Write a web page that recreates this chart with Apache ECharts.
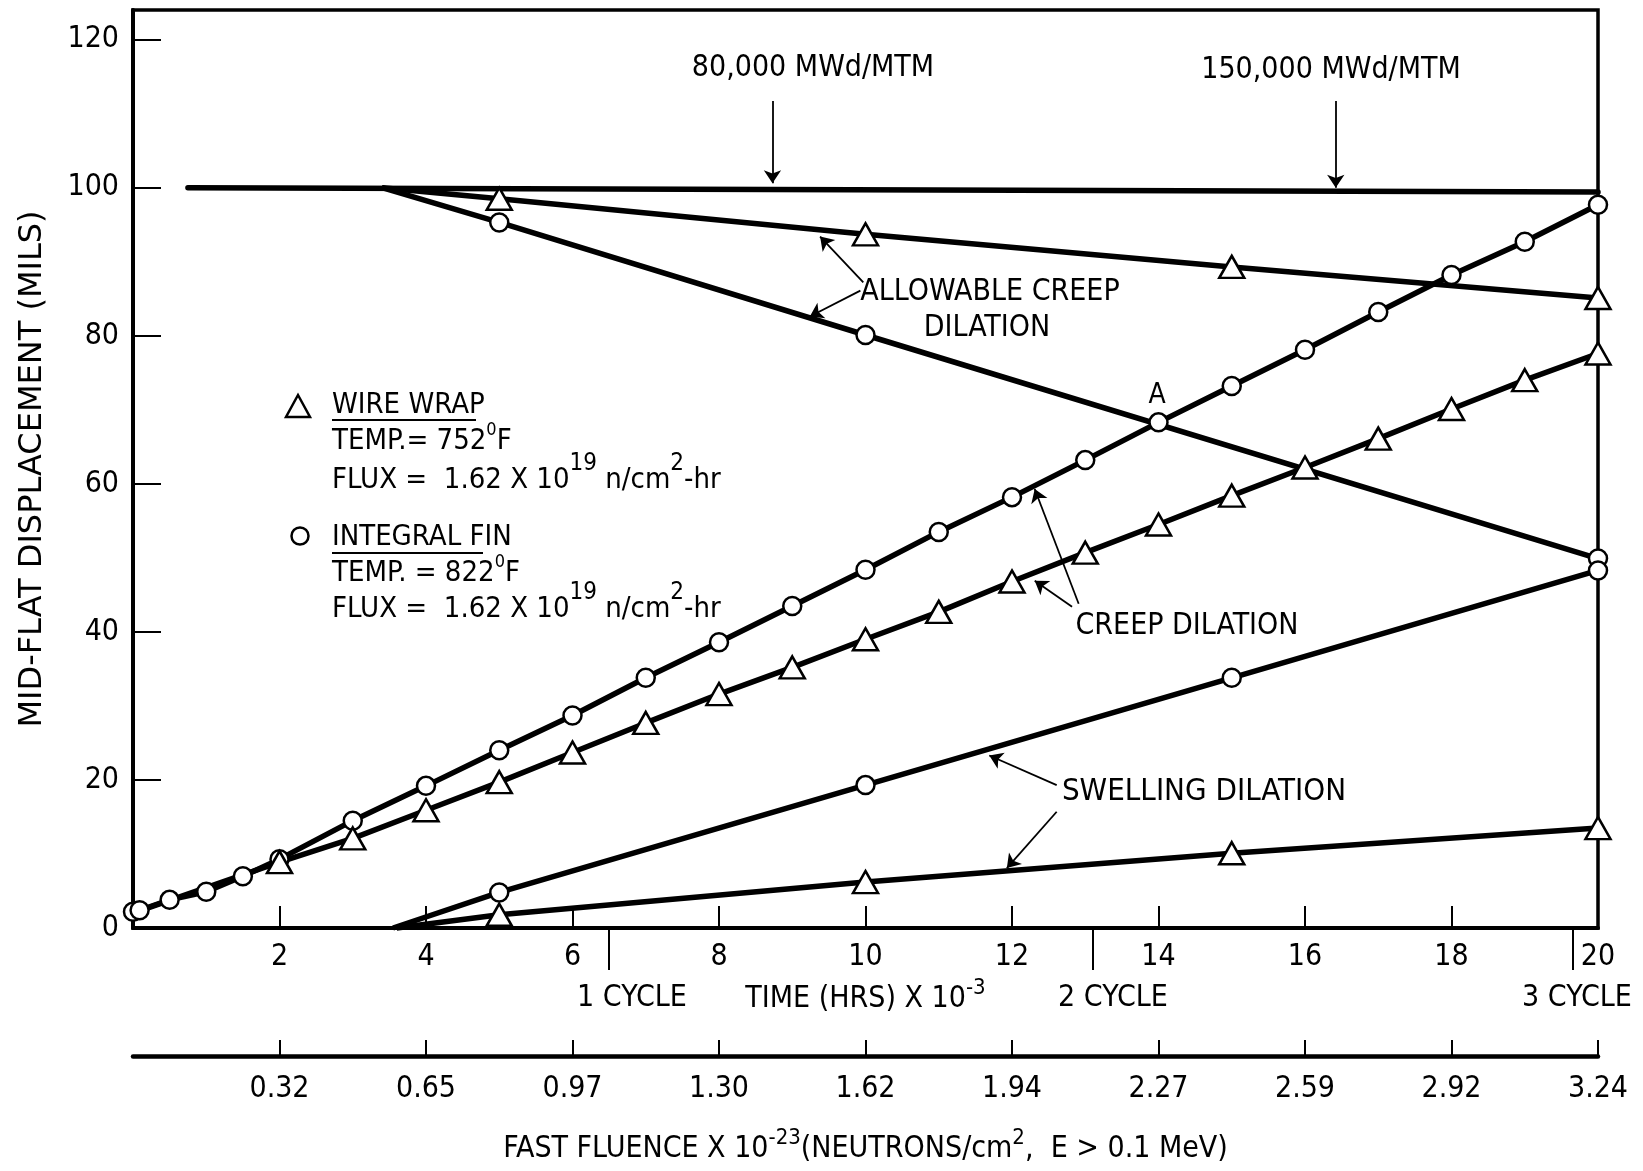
<!DOCTYPE html>
<html>
<head>
<meta charset="utf-8">
<title>Mid-flat displacement</title>
<script src="https://cdn.jsdelivr.net/npm/echarts@6/dist/echarts.min.js"></script>
<style>
html, body { margin: 0; padding: 0; background: #fff; }
#chart { width: 1643px; height: 1171px; }
</style>
</head>
<body>
<div id="chart"></div>
<script>
// axes
var timeTicks = [2, 4, 6, 8, 10, 12, 14, 16, 18, 20]
var yTicks = [0, 20, 40, 60, 80, 100, 120]
var fluenceLabels = ['0.32', '0.65', '0.97', '1.30', '1.62', '1.94', '2.27', '2.59', '2.92', '3.24']
var cycleTimes = [6.5, 13.1, 19.65]
var cycleNames = ['1 CYCLE', '2 CYCLE', '3 CYCLE']

// 100 mil limit line
var limitX = [0.75, 20]
var limitY = [100, 99.4]

// allowable creep dilation
var allowWireX = [3.4, 5, 10, 15, 20]
var allowWireY = [100, 98.5, 93.7, 89.3, 85.1]
var allowFinX = [3.4, 5, 10, 20]
var allowFinY = [100, 95.3, 80.1, 49.9]

// creep dilation
var creepFinX = [0, 0.09, 0.5, 1, 1.5, 2, 3, 4, 5, 6, 7, 8, 9, 10, 11, 12, 13, 14, 15, 16, 17, 18, 19, 20]
var creepFinY = [2.2, 2.4, 3.8, 4.9, 7.0, 9.3, 14.5, 19.2, 24.0, 28.7, 33.8, 38.6, 43.5, 48.4, 53.5, 58.2, 63.2, 68.3, 73.2, 78.1, 83.2, 88.2, 92.7, 97.7]
var creepWireX = [0, 2, 3, 4, 5, 6, 7, 8, 9, 10, 11, 12, 13, 14, 15, 16, 17, 18, 19, 20]
var creepWireY = [2.0, 8.9, 12.1, 15.9, 19.7, 23.7, 27.7, 31.6, 35.2, 39.0, 42.7, 46.8, 50.7, 54.5, 58.4, 62.2, 66.1, 70.1, 74.0, 77.6]

// swelling dilation
var swellFinX = [3.55, 5, 10, 15, 20]
var swellFinY = [0, 4.8, 19.3, 33.8, 48.3]
var swellWireX = [3.6, 5, 10, 15, 20]
var swellWireY = [0, 1.8, 6.2, 10.1, 13.5]

var font = "'Liberation Sans Narrow', 'DejaVu Sans Condensed', 'Liberation Sans', sans-serif"

// first `bare` points are drawn without a marker
var pts = function (xs, ys, bare) {
    return xs.map(function (x, i) {
        var p = { value: [x, ys[i]] }
        if (i < bare) p.symbol = 'none'
        return p
    })
}

var finMark = { symbol: 'circle', symbolSize: 18, itemStyle: { color: '#fff', borderColor: '#000', borderWidth: 2.5 } }
var wireMark = { symbol: 'triangle', symbolSize: [25, 22], itemStyle: { color: '#fff', borderColor: '#000', borderWidth: 2.5 } }

var curve = function (name, data, mark) {
    return {
        name: name,
        type: 'line',
        data: data,
        symbol: mark.symbol,
        symbolSize: mark.symbolSize,
        itemStyle: mark.itemStyle,
        showAllSymbol: true,
        clip: false,
        lineStyle: { color: '#000', width: 5.5 },
        z: 3
    }
}

var txt = function (text, x, y, size, align) {
    return {
        type: 'text', x: x, y: y, silent: true,
        style: { text: text, fontFamily: font, fontSize: size, fill: '#000', align: align || 'center', verticalAlign: 'middle' }
    }
}

var rich = {
    t: { fontFamily: font, fontSize: 29, lineHeight: 40, color: '#000' },
    o: { fontFamily: font, fontSize: 18, lineHeight: 24, verticalAlign: 'top', color: '#000' },
    tt: { fontFamily: font, fontSize: 29, lineHeight: 56, color: '#000' },
    s: { fontFamily: font, fontSize: 24, lineHeight: 20, verticalAlign: 'top', color: '#000' },
    a: { fontFamily: font, fontSize: 30, lineHeight: 44, color: '#000' },
    b: { fontFamily: font, fontSize: 22, lineHeight: 16, verticalAlign: 'top', color: '#000' }
}

var richTxt = function (text, x, y) {
    return {
        type: 'text', x: x, y: y, silent: true,
        style: { text: text, rich: rich, fill: '#000', align: 'left', verticalAlign: 'middle' }
    }
}

// arrows: [x1, y1, x2, y2] in data units, head at the second point
var arrows = [
    [8.73, 111.7, 8.73, 100.6],
    [16.42, 111.7, 16.42, 100.0],
    [9.97, 87.2, 9.38, 93.4],
    [9.93, 86.1, 9.24, 82.6],
    [12.91, 43.8, 12.31, 59.3],
    [12.82, 43.4, 12.31, 46.9],
    [12.61, 19.3, 11.69, 23.3],
    [12.61, 15.7, 11.93, 8.1]
]

var box = document.getElementById('chart')
var myChart = echarts.init(box)

var axisFont = { fontFamily: font, fontSize: 30, color: '#000' }

var options = {
    animation: false,
    backgroundColor: '#fff',
    grid: [
        { left: 133, right: 45, top: 10, bottom: 243, show: true, borderColor: '#000', borderWidth: 3.5 },
        { left: 133, right: 45, top: 1055, height: 1 }
    ],
    xAxis: [
        {
            type: 'value', gridIndex: 0, min: 0, max: 20, interval: 2, position: 'bottom',
            axisLine: { onZero: false, lineStyle: { color: '#000', width: 4 } },
            axisTick: { inside: true, length: 22, lineStyle: { color: '#000', width: 2 } },
            axisLabel: Object.assign({ margin: 14, formatter: function (v) { return v === 0 ? '' : v } }, axisFont),
            splitLine: { show: false },
            name: '{a|TIME (HRS) X 10}{b|-3}',
            nameLocation: 'middle', nameGap: 48,
            nameTextStyle: { rich: rich }
        },
        {
            type: 'value', gridIndex: 0, min: 0, max: 20, position: 'bottom',
            axisLine: { show: false, onZero: false },
            axisTick: { show: true, inside: false, length: 42, customValues: cycleTimes, lineStyle: { color: '#000', width: 2 } },
            axisLabel: { show: false },
            splitLine: { show: false }
        },
        {
            type: 'value', gridIndex: 1, min: 0, max: 20, interval: 2, position: 'bottom',
            axisLine: { onZero: false, lineStyle: { color: '#000', width: 4.5 } },
            axisTick: { inside: true, length: 16, customValues: timeTicks, lineStyle: { color: '#000', width: 2 } },
            axisLabel: Object.assign({
                margin: 18,
                formatter: function (v) {
                    var i = timeTicks.indexOf(v)
                    return i < 0 ? '' : fluenceLabels[i]
                }
            }, axisFont),
            splitLine: { show: false },
            name: '{a|FAST FLUENCE X 10}{b|-23}{a|(NEUTRONS/cm}{b|2}{a|,  E > 0.1 MeV)}',
            nameLocation: 'middle', nameGap: 71,
            nameTextStyle: { rich: rich }
        }
    ],
    yAxis: [
        {
            type: 'value', gridIndex: 0, min: 0, max: 124, interval: 20,
            axisLine: { onZero: false, lineStyle: { color: '#000', width: 4 } },
            axisTick: { inside: true, length: 28, lineStyle: { color: '#000', width: 2 } },
            axisLabel: Object.assign({ margin: 14, formatter: function (v) { return yTicks.indexOf(v) < 0 ? '' : v } }, axisFont),
            splitLine: { show: false },
            name: 'MID-FLAT DISPLACEMENT (MILS)',
            nameLocation: 'middle', nameGap: 84,
            nameTextStyle: { fontFamily: "'DejaVu Sans', sans-serif", fontSize: 32, color: '#000' }
        },
        { type: 'value', gridIndex: 1, min: 0, max: 1, show: false }
    ],
    series: [
        {
            name: 'limit',
            type: 'line',
            data: pts(limitX, limitY, 0),
            symbol: 'none',
            clip: false,
            lineStyle: { color: '#000', width: 5.5, cap: 'round' },
            z: 2,
            markLine: {
                silent: true,
                animation: false,
                symbol: ['none', 'arrow'],
                symbolSize: 13,
                label: { show: false },
                lineStyle: { color: '#000', width: 1.8, type: 'solid' },
                data: arrows.map(function (a) {
                    return [{ coord: [a[0], a[1]] }, { coord: [a[2], a[3]] }]
                })
            }
        },
        curve('allowable wire wrap', pts(allowWireX, allowWireY, 1), wireMark),
        curve('allowable integral fin', pts(allowFinX, allowFinY, 1), finMark),
        curve('creep integral fin', pts(creepFinX, creepFinY, 0), finMark),
        curve('creep wire wrap', pts(creepWireX, creepWireY, 1), wireMark),
        curve('swelling integral fin', pts(swellFinX, swellFinY, 1), finMark),
        curve('swelling wire wrap', pts(swellWireX, swellWireY, 1), wireMark)
    ],
    graphic: [
        txt('80,000 MWd/MTM', 813, 68, 30),
        txt('150,000 MWd/MTM', 1331, 70, 30),
        txt('ALLOWABLE CREEP', 990, 292, 30),
        txt('DILATION', 987, 328, 30),
        txt('A', 1157, 396, 28),
        txt('CREEP DILATION', 1187, 626, 30),
        txt('SWELLING DILATION', 1204, 792, 31),
        txt(cycleNames[0], 632, 998, 30),
        txt(cycleNames[1], 1113, 998, 30),
        txt(cycleNames[2], 1577, 998, 30),
        // legend
        { type: 'polygon', silent: true, shape: { points: [[286, 417], [310, 417], [298, 395]] }, style: { fill: '#fff', stroke: '#000', lineWidth: 2.5 } },
        richTxt('{t|WIRE WRAP}', 332, 405),
        { type: 'line', silent: true, shape: { x1: 332, y1: 420, x2: 476, y2: 420 }, style: { stroke: '#000', lineWidth: 2 } },
        richTxt('{t|TEMP.= 752}{o|0}{t|F}', 332, 441),
        richTxt('{tt|FLUX =  1.62 X 10}{s|19}{tt| n/cm}{s|2}{tt|-hr}', 332, 480),
        { type: 'circle', silent: true, shape: { cx: 300, cy: 536, r: 8.5 }, style: { fill: '#fff', stroke: '#000', lineWidth: 2.5 } },
        richTxt('{t|INTEGRAL FIN}', 332, 537),
        { type: 'line', silent: true, shape: { x1: 332, y1: 553, x2: 483, y2: 553 }, style: { stroke: '#000', lineWidth: 2 } },
        richTxt('{t|TEMP. = 822}{o|0}{t|F}', 332, 573),
        richTxt('{tt|FLUX =  1.62 X 10}{s|19}{tt| n/cm}{s|2}{tt|-hr}', 332, 609)
    ]
}
myChart.setOption(options)
</script>
</body>
</html>
